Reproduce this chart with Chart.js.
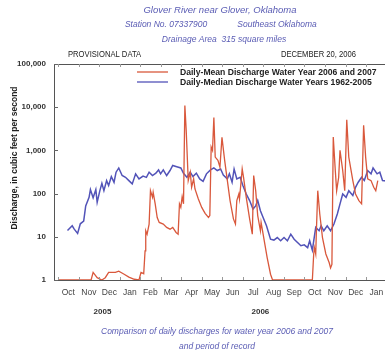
<!DOCTYPE html>
<html>
<head>
<meta charset="utf-8">
<script src="https://cdn.jsdelivr.net/npm/chart.js@4/dist/chart.umd.min.js"></script>
<style>
  html, body { margin: 0; padding: 0; background: #ffffff; overflow: hidden; }
  #wrap { position: relative; width: 400px; height: 350px; }
</style>
</head>
<body>
<div id="wrap"><canvas id="c" width="400" height="350"></canvas></div>
<script>
// Days are counted from October 1, 2005.
const monthLabels = ['Oct', 'Nov', 'Dec', 'Jan', 'Feb', 'Mar', 'Apr', 'May', 'Jun', 'Jul', 'Aug', 'Sep', 'Oct', 'Nov', 'Dec', 'Jan'];
const yearLabels = ['2005', '2006'];
const yTickValues = [1, 10, 100, 1000, 10000, 100000];

// Daily-median discharge, water years 1962-2005 (cubic feet per second)
const medianDays = [14, 21, 24, 29, 33, 38, 41, 46, 48, 52, 56, 58, 62, 65, 68, 72, 75, 79, 83, 86, 90, 95, 100, 105, 110, 115, 120, 126, 131, 135, 140, 145, 149, 152, 156, 161, 166, 170, 176, 182, 186, 191, 196, 200, 205, 210, 215, 220, 226, 231, 236, 241, 245, 251, 254, 258, 261, 265, 270, 274, 279, 284, 289, 293, 296, 300, 304, 309, 315, 320, 325, 330, 335, 340, 345, 350, 355, 360, 365, 370, 373, 377, 382, 387, 390, 394, 399, 404, 409, 414, 418, 422, 427, 431, 437, 441, 445, 450, 454, 459, 464, 467, 473, 477, 481, 490];
const medianFlow = [14, 18, 15, 12, 20, 23, 52, 82, 124, 80, 124, 63, 117, 173, 117, 200, 154, 248, 183, 313, 392, 262, 238, 200, 168, 287, 219, 255, 238, 313, 262, 296, 353, 287, 353, 262, 342, 448, 420, 392, 296, 238, 313, 248, 296, 219, 193, 287, 353, 392, 342, 371, 270, 219, 287, 183, 371, 219, 238, 154, 98, 69, 44, 52, 69, 40, 28, 18, 8.8, 8.4, 9.6, 8.1, 9.6, 8.1, 11.5, 8.8, 7.4, 6.2, 6.5, 5.6, 8.1, 4.9, 16.5, 13.8, 18, 13.8, 18, 13.8, 19.7, 33.7, 58, 98, 82, 117, 90, 140, 183, 238, 200, 342, 287, 392, 287, 313, 200, 193];

// Daily-mean discharge, water years 2006 and 2007 (cubic feet per second)
const meanDays = [0, 49, 52, 58, 65, 70, 75, 85, 90, 98, 105, 113, 120, 123, 127, 129, 130, 132, 135, 137, 140, 141, 144, 147, 150, 156, 161, 166, 170, 175, 178, 180, 182, 184, 186, 188, 190, 193, 196, 198, 201, 203, 208, 213, 218, 223, 225, 227, 229, 231, 233, 237, 240, 243, 247, 251, 255, 260, 263, 265, 268, 269, 273, 275, 279, 284, 288, 290, 293, 296, 300, 301, 304, 310, 315, 318, 377, 379, 380, 382, 383, 385, 388, 392, 397, 402, 404, 406, 408, 411, 413, 416, 418, 422, 425, 428, 431, 437, 441, 446, 450, 453, 456, 459, 464, 468, 471, 474];
const meanFlow = [1, 1, 1.5, 1.13, 1, 1.13, 1.5, 1.5, 1.6, 1.36, 1.17, 1.04, 1, 1.5, 1.4, 4.7, 13.8, 11.5, 19.7, 117, 82, 107, 58, 28, 21.5, 19.7, 16.5, 15, 16.5, 12.6, 11.5, 58, 48, 85, 58, 11000, 2900, 200, 313, 140, 219, 128, 75, 48, 35, 28, 31, 1200, 1000, 5800, 700, 590, 410, 2000, 590, 200, 69, 26, 19.7, 69, 98, 75, 371, 238, 82, 26, 11.5, 262, 117, 31, 13.8, 21.5, 11.5, 3.3, 1.36, 1, 1, 4, 5.6, 4, 13.8, 117, 33.7, 9.6, 4, 2.5, 1.9, 2.3, 2040, 342, 117, 238, 1000, 342, 117, 5100, 700, 200, 98, 69, 58, 3800, 700, 219, 200, 140, 117, 200];

const seriesNames = ['Daily-Mean Discharge Water Year 2006 and 2007', 'Daily-Median Discharge Water Years 1962-2005'];

const MONTH = 30.44;
const RED = '#d9583c';
const BLUE = '#5253b8';
const TITLE_BLUE = '#5a5cb4';
const FONT = '"Liberation Sans", Arial, sans-serif';

function pairs(xs, ys) { return xs.map((d, i) => ({ x: d, y: ys[i] })); }

// Draws text squeezed horizontally to a narrower set width.
function narrowText(ctx, text, x, y, squeeze) {
  ctx.save();
  ctx.translate(x, y);
  ctx.scale(squeeze, 1);
  ctx.fillText(text, 0, 0);
  ctx.restore();
}

const decor = {
  id: 'decor',
  afterDraw(chart) {
    const ctx = chart.ctx;
    const a = chart.chartArea;
    const xs = chart.scales.x, ys = chart.scales.y;
    ctx.save();

    // frame: top edge
    ctx.strokeStyle = '#555';
    ctx.lineWidth = 1;
    ctx.beginPath();
    ctx.moveTo(a.left, a.top + 0.5);
    ctx.lineTo(a.right, a.top + 0.5);
    ctx.stroke();

    // inward ticks on the discharge axis
    ctx.strokeStyle = '#666';
    yTickValues.forEach(v => {
      const py = Math.round(ys.getPixelForValue(v)) + 0.5;
      ctx.beginPath(); ctx.moveTo(a.left, py); ctx.lineTo(a.left + 4, py); ctx.stroke();
    });
    // inward month ticks on top and bottom edges
    ctx.strokeStyle = '#999';
    for (let k = 0; k <= 16; k++) {
      const px = Math.round(xs.getPixelForValue(k * MONTH)) + 0.5;
      if (px < a.left || px > a.right) continue;
      ctx.beginPath(); ctx.moveTo(px, a.bottom); ctx.lineTo(px, a.bottom - 3); ctx.stroke();
      ctx.beginPath(); ctx.moveTo(px, a.top); ctx.lineTo(px, a.top + 3); ctx.stroke();
    }

    // legend
    const ds = chart.data.datasets;
    ctx.textBaseline = 'middle';
    ctx.textAlign = 'left';
    ctx.font = 'bold 8.6px ' + FONT;
    [[72, ds[0]], [82, ds[1]]].forEach(([ly, d]) => {
      ctx.strokeStyle = d.borderColor;
      ctx.lineWidth = 1.3;
      ctx.beginPath(); ctx.moveTo(137, ly); ctx.lineTo(168, ly); ctx.stroke();
      ctx.fillStyle = '#222';
      ctx.fillText(d.label, 180, ly + 1);
    });

    // headings
    ctx.textAlign = 'center';
    ctx.fillStyle = TITLE_BLUE;
    ctx.font = 'italic 9.5px ' + FONT;
    ctx.fillText('Glover River near Glover, Oklahoma', 220, 10);
    ctx.font = 'italic 8.5px ' + FONT;
    ctx.fillText('Station No. 07337900', 166, 25);
    ctx.fillText('Southeast Oklahoma', 277, 25);
    ctx.fillText('Drainage Area  315 square miles', 224, 40);

    ctx.fillStyle = '#222';
    ctx.font = '8.3px ' + FONT;
    ctx.textAlign = 'left';
    narrowText(ctx, 'PROVISIONAL DATA', 68, 55, 0.92);
    ctx.textAlign = 'right';
    narrowText(ctx, 'DECEMBER 20, 2006', 356, 55, 0.92);

    // year labels under the month axis
    ctx.textAlign = 'center';
    ctx.font = 'bold 8px ' + FONT;
    ctx.fillStyle = '#333';
    ctx.fillText(yearLabels[0], xs.getPixelForValue(2 * MONTH + 5), 312);
    ctx.fillText(yearLabels[1], xs.getPixelForValue(9 * MONTH + 26), 312);

    // caption
    ctx.fillStyle = TITLE_BLUE;
    ctx.font = 'italic 8.5px ' + FONT;
    ctx.fillText('Comparison of daily discharges for water year 2006 and 2007', 217, 332);
    ctx.fillText('and period of record', 217, 347);

    // vertical axis title
    ctx.save();
    ctx.translate(15, 158);
    ctx.rotate(-Math.PI / 2);
    ctx.fillStyle = '#222';
    ctx.font = 'bold 8.5px ' + FONT;
    ctx.fillText('Discharge, in cubic feet per second', 0, 0);
    ctx.restore();

    ctx.restore();
  }
};

new Chart(document.getElementById('c'), {
  type: 'line',
  data: {
    datasets: [
      { label: seriesNames[0], data: pairs(meanDays, meanFlow), borderColor: RED, borderWidth: 1.3, pointRadius: 0, tension: 0, fill: false },
      { label: seriesNames[1], data: pairs(medianDays, medianFlow), borderColor: BLUE, borderWidth: 1.5, pointRadius: 0, tension: 0, fill: false }
    ]
  },
  options: {
    responsive: false,
    animation: false,
    events: [],
    layout: { padding: { top: 64, right: 4, bottom: 0, left: 0 } },
    plugins: { legend: { display: false }, tooltip: { enabled: false }, title: { display: false } },
    scales: {
      x: {
        type: 'linear',
        min: -6,
        max: 501,
        afterBuildTicks(scale) {
          scale.ticks = monthLabels.map((m, k) => ({ value: 15.2 + k * MONTH }));
        },
        afterFit(scale) { scale.height = 70; },
        ticks: {
          autoSkip: false,
          maxRotation: 0,
          padding: 8,
          color: '#444',
          font: { family: FONT, size: 8.5 },
          callback: (v, i) => monthLabels[i]
        },
        grid: { display: false, drawTicks: false },
        border: { display: true, color: '#555', width: 1 }
      },
      y: {
        type: 'logarithmic',
        min: 1,
        max: 100000,
        afterBuildTicks(scale) {
          scale.ticks = yTickValues.map(v => ({ value: v }));
        },
        afterFit(scale) { scale.width = 54; },
        ticks: {
          padding: 8,
          color: '#333',
          font: { family: FONT, size: 8, weight: 'bold' },
          callback: v => Number(v).toLocaleString('en-US')
        },
        grid: { display: false, drawTicks: false },
        border: { display: true, color: '#555', width: 1 }
      }
    }
  },
  plugins: [decor]
});
</script>
</body>
</html>
